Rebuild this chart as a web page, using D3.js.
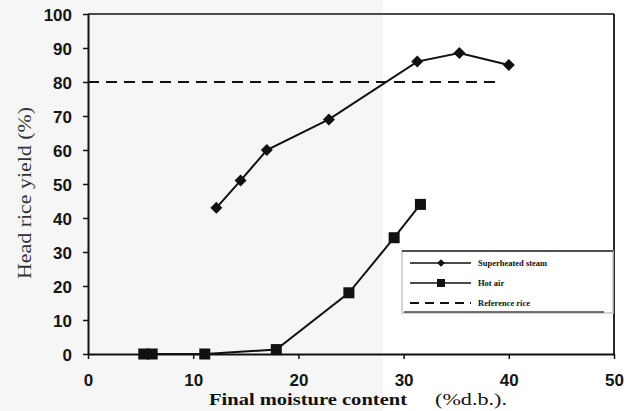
<!DOCTYPE html>
<html>
<head>
<meta charset="utf-8">
<script src="https://cdn.jsdelivr.net/npm/d3@7"></script>
<style>
  html, body { margin: 0; padding: 0; background: #fff; }
  svg { display: block; }
</style>
</head>
<body>
<svg id="chart" width="638" height="411"></svg>
<script>
// Head rice yield versus final moisture content
const steamMoisture = [12.2, 14.5, 17.0, 22.9, 31.3, 35.3, 40.0];
const steamYield    = [43, 51, 60, 69, 86, 88.5, 85];

const airMoisture = [5.3, 6.1, 11.1, 17.9, 24.8, 29.1, 31.6];
const airYield    = [0, 0, 0, 1.3, 18, 34.2, 44];

const referenceYield = 80;
const referenceSpan  = [0, 39.3];

const xTicks = [0, 10, 20, 30, 40, 50];
const yTicks = [0, 10, 20, 30, 40, 50, 60, 70, 80, 90, 100];

const legendLabels = ["Superheated steam", "Hot air", "Reference rice"];

const svg = d3.select("#chart");

// faint paper tone on the left half of the sheet
svg.append("rect").attr("x", 0).attr("y", 0).attr("width", 383).attr("height", 411)
  .attr("fill", "#f6f6f6");

const x = d3.scaleLinear().domain([0, 50]).range([88, 614]);
const y = d3.scaleLinear().domain([0, 100]).range([354, 14]);

// frame: top and right borders
svg.append("line").attr("x1", x(0)).attr("x2", x(50)).attr("y1", y(100)).attr("y2", y(100))
  .attr("stroke", "#111").attr("stroke-width", 1.6);
svg.append("line").attr("x1", x(50)).attr("x2", x(50)).attr("y1", y(100)).attr("y2", y(0))
  .attr("stroke", "#111").attr("stroke-width", 1.8);

// axes
const yAxis = svg.append("g").attr("transform", `translate(${x(0)},0)`)
  .call(d3.axisLeft(y).tickValues(yTicks).tickSize(5).tickPadding(11).tickSizeOuter(0));
const xAxis = svg.append("g").attr("transform", `translate(0,${y(0)})`)
  .call(d3.axisBottom(x).tickValues(xTicks).tickSize(5).tickPadding(0).tickSizeOuter(0));

[yAxis, xAxis].forEach(g => {
  g.select(".domain").attr("stroke", "#111").attr("stroke-width", 2);
  g.selectAll(".tick line").attr("stroke", "#111").attr("stroke-width", 1.5);
  g.selectAll(".tick text")
    .attr("fill", "#151515")
    .style("font-family", "'Liberation Sans', Arial, sans-serif")
    .style("font-weight", "bold")
    .style("font-size", "17px");
});
yAxis.selectAll(".tick text").attr("dy", "0.36em");
xAxis.selectAll(".tick text").attr("y", 32).attr("dy", 0);

// reference line
svg.append("line")
  .attr("x1", x(referenceSpan[0])).attr("x2", x(referenceSpan[1]))
  .attr("y1", y(referenceYield)).attr("y2", y(referenceYield))
  .attr("stroke", "#111").attr("stroke-width", 2)
  .attr("stroke-dasharray", "11,7");

const line = d3.line().x(d => x(d[0])).y(d => y(d[1]));

const steam = steamMoisture.map((m, i) => [m, steamYield[i]]);
const air = airMoisture.map((m, i) => [m, airYield[i]]);

svg.append("path").datum(steam).attr("d", line)
  .attr("fill", "none").attr("stroke", "#111").attr("stroke-width", 2);
svg.append("path").datum(air).attr("d", line)
  .attr("fill", "none").attr("stroke", "#111").attr("stroke-width", 2);

const diamond = d3.symbol().type(d3.symbolSquare).size(72);
svg.selectAll(".steam").data(steam).enter().append("path")
  .attr("class", "steam")
  .attr("d", diamond)
  .attr("transform", d => `translate(${x(d[0])},${y(d[1])}) rotate(45)`)
  .attr("fill", "#111");

svg.selectAll(".air").data(air).enter().append("rect")
  .attr("class", "air")
  .attr("x", d => x(d[0]) - 5.5).attr("y", d => y(d[1]) - 5.5)
  .attr("width", 11).attr("height", 11)
  .attr("fill", "#111");

// legend
const lg = svg.append("g");
lg.append("rect").attr("x", 402).attr("y", 251).attr("width", 211).attr("height", 62)
  .attr("fill", "#fff").attr("stroke", "#c8c8c8").attr("stroke-width", 1.5);
lg.append("line").attr("x1", 402).attr("x2", 613).attr("y1", 251).attr("y2", 251)
  .attr("stroke", "#222").attr("stroke-width", 1.3);
lg.append("line").attr("x1", 404).attr("x2", 604).attr("y1", 312).attr("y2", 312)
  .attr("stroke", "#444").attr("stroke-width", 1.5);

const rows = [263, 283, 303];
const sx0 = 410, sx1 = 471, smid = 441;
lg.append("line").attr("x1", sx0).attr("x2", sx1).attr("y1", rows[0]).attr("y2", rows[0])
  .attr("stroke", "#111").attr("stroke-width", 1.6);
lg.append("path").attr("d", d3.symbol().type(d3.symbolSquare).size(30))
  .attr("transform", `translate(${smid},${rows[0]}) rotate(45)`).attr("fill", "#111");
lg.append("line").attr("x1", sx0).attr("x2", sx1).attr("y1", rows[1]).attr("y2", rows[1])
  .attr("stroke", "#111").attr("stroke-width", 1.6);
lg.append("rect").attr("x", smid - 4).attr("y", rows[1] - 4).attr("width", 8).attr("height", 8)
  .attr("fill", "#111");
lg.append("line").attr("x1", sx0).attr("x2", sx1).attr("y1", rows[2]).attr("y2", rows[2])
  .attr("stroke", "#111").attr("stroke-width", 2).attr("stroke-dasharray", "9,6");

lg.selectAll(".lt").data(legendLabels).enter().append("text")
  .attr("x", 478).attr("y", (d, i) => rows[i] + 3)
  .text(d => d)
  .attr("fill", "#111")
  .style("font-family", "'Liberation Serif', 'Times New Roman', serif")
  .style("font-weight", "bold")
  .style("font-size", "8.5px");

// axis titles
svg.append("text")
  .attr("transform", "translate(31,193) rotate(-90)")
  .attr("text-anchor", "middle")
  .attr("textLength", 172).attr("lengthAdjust", "spacingAndGlyphs")
  .attr("fill", "#333")
  .style("font-family", "'Liberation Serif', 'Times New Roman', serif")
  .style("font-size", "18px")
  .text("Head rice yield (%)");

svg.append("text")
  .attr("x", 209).attr("y", 405)
  .attr("textLength", 198).attr("lengthAdjust", "spacingAndGlyphs")
  .attr("fill", "#111")
  .style("font-family", "'Liberation Serif', 'Times New Roman', serif")
  .style("font-weight", "bold")
  .style("font-size", "17px")
  .text("Final moisture content");

svg.append("text")
  .attr("x", 435).attr("y", 405)
  .attr("textLength", 72).attr("lengthAdjust", "spacingAndGlyphs")
  .attr("fill", "#111")
  .style("font-family", "'Liberation Serif', 'Times New Roman', serif")
  .style("font-size", "17px")
  .text("(%d.b.).");
</script>
</body>
</html>
